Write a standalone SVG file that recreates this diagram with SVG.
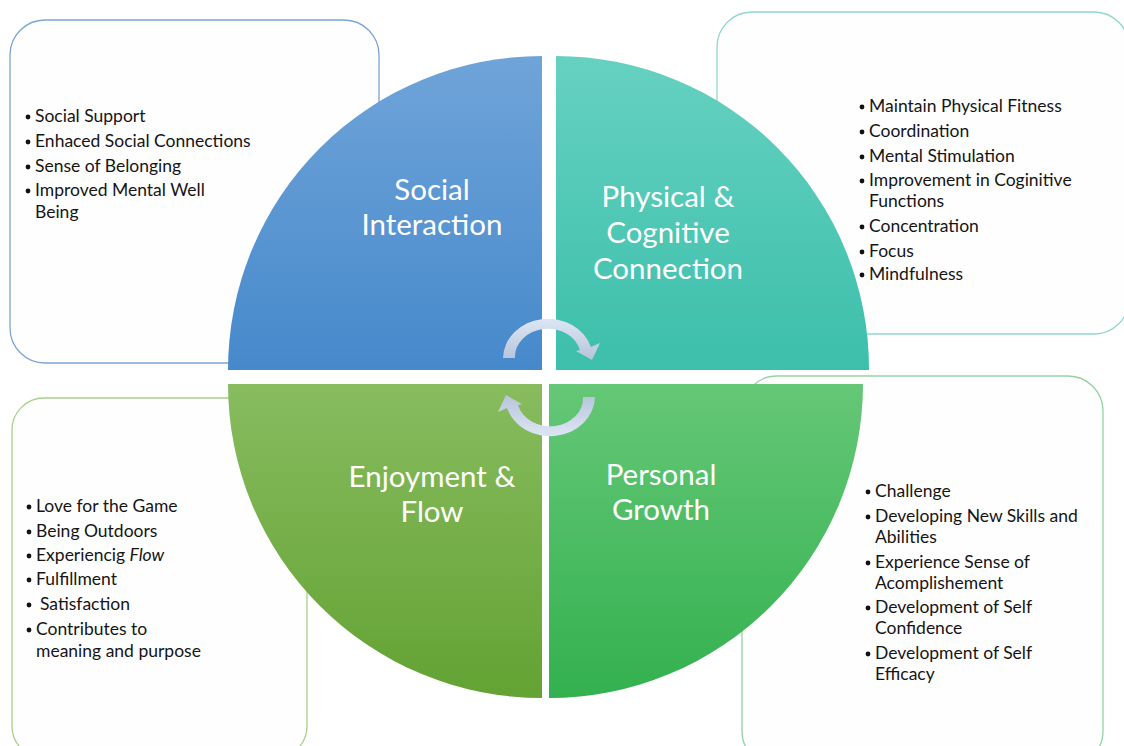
<svg xmlns="http://www.w3.org/2000/svg" width="1124" height="746" viewBox="0 0 1124 746">
  <defs>
    <linearGradient id="gBlue" x1="0" y1="0" x2="0" y2="1">
      <stop offset="0" stop-color="#6fa4d9"/>
      <stop offset="1" stop-color="#4689cb"/>
    </linearGradient>
    <linearGradient id="gTeal" x1="0" y1="0" x2="0" y2="1">
      <stop offset="0" stop-color="#66d1c1"/>
      <stop offset="1" stop-color="#3cbfab"/>
    </linearGradient>
    <linearGradient id="gLime" x1="0" y1="0" x2="0" y2="1">
      <stop offset="0" stop-color="#88bc5f"/>
      <stop offset="1" stop-color="#63a233"/>
    </linearGradient>
    <linearGradient id="gGreen" x1="0" y1="0" x2="0" y2="1">
      <stop offset="0" stop-color="#65c777"/>
      <stop offset="1" stop-color="#33b14f"/>
    </linearGradient>
    <linearGradient id="gArrow" x1="0" y1="0" x2="0" y2="1">
      <stop offset="0" stop-color="#dde6f3"/>
      <stop offset="1" stop-color="#b6c4db"/>
    </linearGradient>
    <path id="cycleArrow" d="M503,358 A45,40 0 0 1 591,347 L600,343 L592,360 L576,351 L580,350 A33,28 0 0 0 515,358 Z"/>
  </defs>
  <style>
    .box { fill: #fefefe; stroke-width: 1.3; }
    .title { font-family: "Lato", "Open Sans", sans-serif; font-size: 29.5px; fill: #ffffff; text-anchor: middle; }
    .item { font-family: "Lato", "Liberation Sans", sans-serif; font-size: 17.5px; fill: #151515; }
    .dot { fill: #111111; }
  </style>

  <rect width="1124" height="746" fill="#ffffff"/>

  <!-- detail panels (behind the wheel) -->
  <g id="panel-social">
    <rect class="box" x="10" y="20" width="369" height="343" rx="35" stroke="#7ba6d4"/>
    <g class="item">
      <text x="35" y="122">Social Support</text>
      <text x="35" y="147">Enhaced Social Connections</text>
      <text x="35" y="172">Sense of Belonging</text>
      <text x="35" y="196">Improved Mental Well</text>
      <text x="35" y="218">Being</text>
    </g>
    <g class="dot">
      <circle cx="28" cy="117" r="2.4"/>
      <circle cx="28" cy="142" r="2.4"/>
      <circle cx="28" cy="167" r="2.4"/>
      <circle cx="28" cy="191" r="2.4"/>
    </g>
  </g>

  <g id="panel-physical">
    <rect class="box" x="717" y="12" width="412" height="322" rx="35" stroke="#92d8cb"/>
    <g class="item">
      <text x="869" y="112">Maintain Physical Fitness</text>
      <text x="869" y="137">Coordination</text>
      <text x="869" y="162">Mental Stimulation</text>
      <text x="869" y="186">Improvement in  Coginitive</text>
      <text x="869" y="207">Functions</text>
      <text x="869" y="232">Concentration</text>
      <text x="869" y="257">Focus</text>
      <text x="869" y="280">Mindfulness</text>
    </g>
    <g class="dot">
      <circle cx="862" cy="107" r="2.4"/>
      <circle cx="862" cy="132" r="2.4"/>
      <circle cx="862" cy="157" r="2.4"/>
      <circle cx="862" cy="181" r="2.4"/>
      <circle cx="862" cy="227" r="2.4"/>
      <circle cx="862" cy="252" r="2.4"/>
      <circle cx="862" cy="275" r="2.4"/>
    </g>
  </g>

  <g id="panel-enjoyment">
    <rect class="box" x="12" y="398" width="295" height="360" rx="32" stroke="#a8d08d"/>
    <g class="item">
      <text x="36" y="512">Love for the Game</text>
      <text x="36" y="537">Being Outdoors</text>
      <text x="36" y="561">Experiencig <tspan font-style="italic">Flow</tspan></text>
      <text x="36" y="585">Fulfillment</text>
      <text x="40" y="610">Satisfaction</text>
      <text x="36" y="635">Contributes to</text>
      <text x="36" y="657">meaning and purpose</text>
    </g>
    <g class="dot">
      <circle cx="29" cy="507" r="2.4"/>
      <circle cx="29" cy="532" r="2.4"/>
      <circle cx="29" cy="556" r="2.4"/>
      <circle cx="29" cy="580" r="2.4"/>
      <circle cx="29" cy="605" r="2.4"/>
      <circle cx="29" cy="630" r="2.4"/>
    </g>
  </g>

  <g id="panel-growth">
    <rect class="box" x="742" y="376" width="361" height="390" rx="35" stroke="#93d3a2"/>
    <g class="item">
      <text x="875" y="497">Challenge</text>
      <text x="875" y="522">Developing New Skills and</text>
      <text x="875" y="543">Abilities</text>
      <text x="875" y="568">Experience Sense of</text>
      <text x="875" y="589">Acomplishement</text>
      <text x="875" y="613">Development of Self</text>
      <text x="875" y="634">Confidence</text>
      <text x="875" y="659">Development of Self</text>
      <text x="875" y="680">Efficacy</text>
    </g>
    <g class="dot">
      <circle cx="868" cy="492" r="2.4"/>
      <circle cx="868" cy="517" r="2.4"/>
      <circle cx="868" cy="563" r="2.4"/>
      <circle cx="868" cy="608" r="2.4"/>
      <circle cx="868" cy="654" r="2.4"/>
    </g>
  </g>

  <!-- four quarter-circle segments of the wheel -->
  <g id="node-social">
    <path d="M542,370 L228,370 A314,314 0 0 1 542,56 Z" fill="url(#gBlue)"/>
    <text class="title" x="432" y="200">Social</text>
    <text class="title" x="432" y="235">Interaction</text>
  </g>
  <g id="node-physical">
    <path d="M556,370 L556,56 A313,313 0 0 1 869,370 Z" fill="url(#gTeal)"/>
    <text class="title" x="668" y="207">Physical &amp;</text>
    <text class="title" x="668" y="243">Cognitive</text>
    <text class="title" x="668" y="279">Connection</text>
  </g>
  <g id="node-enjoyment">
    <path d="M542,384 L542,698 A314,314 0 0 1 228,384 Z" fill="url(#gLime)"/>
    <text class="title" x="432" y="487">Enjoyment &amp;</text>
    <text class="title" x="432" y="522">Flow</text>
  </g>
  <g id="node-growth">
    <path d="M549,384 L863,384 A314,314 0 0 1 549,698 Z" fill="url(#gGreen)"/>
    <text class="title" x="661" y="485">Personal</text>
    <text class="title" x="661" y="520">Growth</text>
  </g>

  <!-- circular cycle arrows in the middle -->
  <g id="connectors">
    <use href="#cycleArrow" fill="url(#gArrow)"/>
    <use href="#cycleArrow" fill="url(#gArrow)" transform="rotate(180 549 377.5)"/>
  </g>
</svg>
